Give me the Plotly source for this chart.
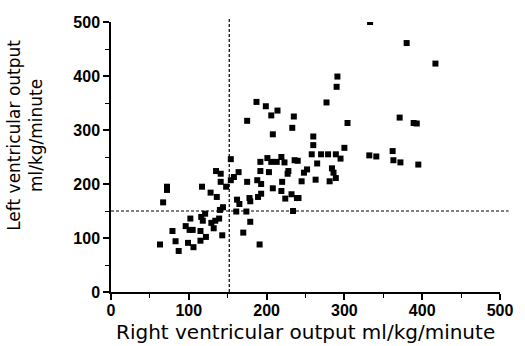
import plotly.graph_objects as go

# Right ventricular output (x) and left ventricular output (y), ml/kg/minute
rvo = [63, 67, 72, 72, 79, 83, 87, 96, 102, 101, 105, 99, 106, 115, 122, 115, 118, 116, 121, 117,
       132, 134, 139, 143, 128, 136, 140, 144, 135, 141, 141, 148, 154, 154, 158, 164, 162, 165, 161, 170,
       175, 178, 174, 179, 191, 189, 193, 188, 193, 192, 201, 208, 208, 206, 213, 219, 220, 224, 227, 228,
       232, 236, 240, 234, 239, 192, 203, 219, 223, 241, 245, 252, 248, 263, 265, 258, 270, 279, 289, 295,
       300, 260, 260, 284, 286, 289, 281, 332, 341, 362, 363, 372, 395, 304, 371, 389, 393, 277, 290, 291,
       380, 417, 333, 187, 199, 214, 206, 175, 235, 233, 129, 179]
lvo = [88, 166, 195, 189, 113, 94, 76, 122, 136, 115, 115, 91, 83, 95, 102, 113, 132, 139, 145, 195,
       118, 132, 136, 105, 184, 176, 152, 157, 224, 219, 204, 195, 246, 207, 213, 222, 171, 163, 149, 110,
       204, 174, 149, 130, 88, 176, 182, 207, 200, 241, 248, 292, 192, 241, 241, 250, 204, 173, 219, 224,
       181, 244, 243, 150, 174, 224, 222, 187, 240, 174, 205, 227, 221, 208, 238, 255, 255, 255, 255, 247,
       267, 288, 272, 229, 221, 211, 205, 253, 251, 261, 244, 240, 236, 313, 323, 313, 312, 351, 380, 399,
       461, 423, 500, 352, 344, 336, 327, 317, 325, 304, 128, 168]

# Reference (cut-off) lines
rvo_cut = 152
lvo_cut = 150

x_ticks = [0, 100, 200, 300, 400, 500]
y_ticks = [0, 100, 200, 300, 400, 500]

FONT = "DejaVu Sans"
TICKFONT = dict(family="Liberation Sans", size=16, color="black", weight="bold")

fig = go.Figure()
fig.add_trace(go.Scatter(
    x=rvo, y=lvo, mode="markers",
    marker=dict(symbol="square", size=6, color="black", line=dict(width=0)),
    showlegend=False, hoverinfo="skip",
))

fig.add_shape(type="line", xref="x", yref="paper", x0=rvo_cut, x1=rvo_cut, y0=0, y1=1.016,
              line=dict(color="black", width=1.2, dash="3px,2px"))
fig.add_shape(type="line", xref="paper", yref="y", x0=0, x1=1.022, y0=lvo_cut, y1=lvo_cut,
              line=dict(color="black", width=1.2, dash="3px,2px"))

axis_common = dict(
    showgrid=False, zeroline=False, showline=True, linecolor="black", linewidth=1.5,
    ticks="outside", ticklen=6, tickwidth=1.5, tickcolor="black",
    tickfont=TICKFONT,
    minor=dict(dtick=50, ticks="outside", ticklen=4, tickwidth=1.2, tickcolor="black"),
)
fig.update_xaxes(range=[0, 500], tickvals=x_ticks, ticktext=[str(v) for v in x_ticks],
                 ticklabelstandoff=-3, **axis_common)
fig.update_yaxes(range=[0, 500], tickvals=y_ticks, ticktext=[str(v) for v in y_ticks], **axis_common)

fig.add_annotation(text="Right ventricular output ml/kg/minute", xref="paper", yref="paper",
                   x=0.5, y=-0.148, xanchor="center", yanchor="middle", showarrow=False,
                   font=dict(family=FONT, size=20, color="black"))
fig.add_annotation(text="Left ventricular output<br>ml/kg/minute", xref="paper", yref="paper",
                   x=-0.22, y=0.58, xanchor="center", yanchor="middle", showarrow=False,
                   textangle=-90, font=dict(family=FONT, size=17, color="black"))

fig.update_layout(
    width=525, height=346,
    margin=dict(l=111, r=19, t=22, b=54),
    paper_bgcolor="white", plot_bgcolor="white",
)
fig.write_html("out.html", config={"displayModeBar": False},
               post_script="document.body.style.margin='0';document.body.style.overflow='hidden';")
